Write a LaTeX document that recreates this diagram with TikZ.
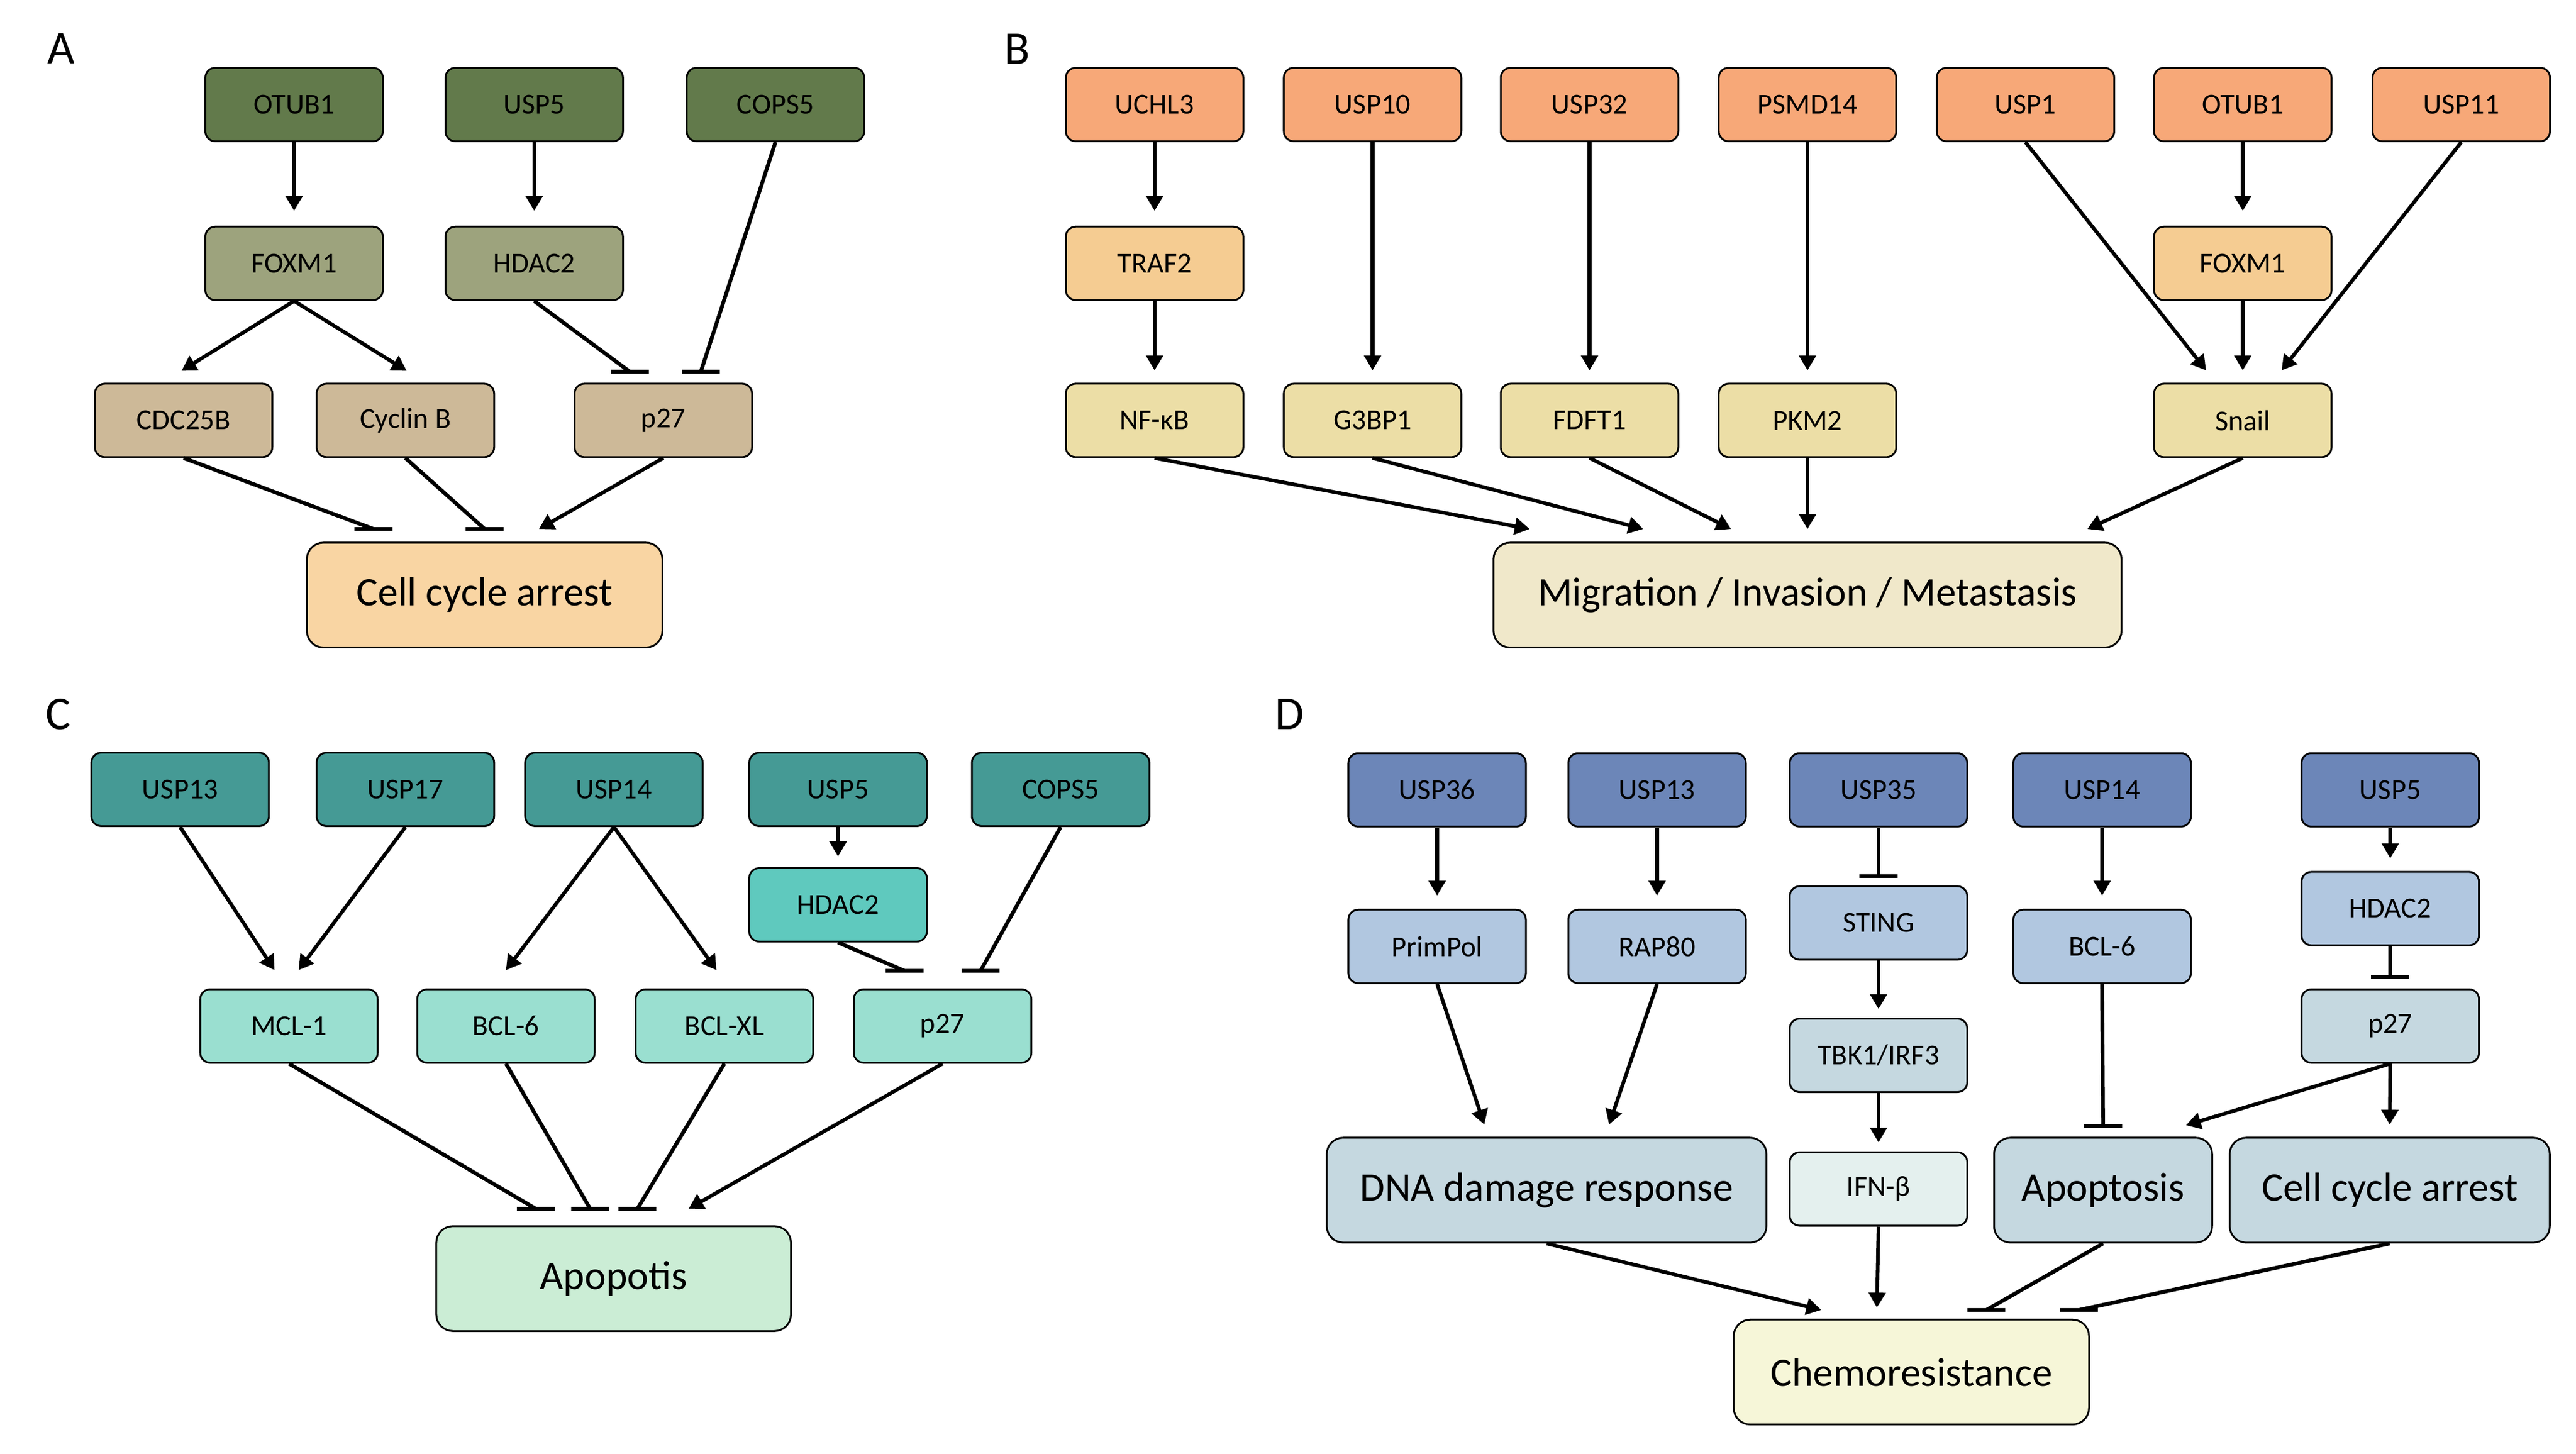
\documentclass[tikz,border=0pt]{standalone}
\usepackage{fontspec}
\setmainfont{Carlito}
\usetikzlibrary{arrows.meta,calc}
\definecolor{aTop}{HTML}{627A4B}
\definecolor{aMid}{HTML}{9DA37D}
\definecolor{aLow}{HTML}{CDB998}
\definecolor{aRes}{HTML}{F9D5A3}
\definecolor{bTop}{HTML}{F7A878}
\definecolor{bMid}{HTML}{F5CC92}
\definecolor{bLow}{HTML}{ECDEA6}
\definecolor{bRes}{HTML}{F0E8CA}
\definecolor{cTop}{HTML}{459A95}
\definecolor{cMid}{HTML}{5FC9BE}
\definecolor{cLow}{HTML}{9ADFD0}
\definecolor{cRes}{HTML}{CBEDD5}
\definecolor{dTop}{HTML}{6C86B8}
\definecolor{dMid}{HTML}{B1C7E0}
\definecolor{dLow}{HTML}{C5D8E0}
\definecolor{dIfn}{HTML}{E4F0EE}
\definecolor{dRes}{HTML}{C5D8E0}
\definecolor{dChem}{HTML}{F6F6D8}
\tikzset{
  box/.style={draw=black, line width=1.1pt, rounded corners=6pt,
    minimum width=107.5pt, minimum height=44.5pt, inner sep=0pt,
    font=\fontsize{17.5}{20}\selectfont},
  bigbox/.style={draw=black, line width=1.1pt, rounded corners=10pt,
    minimum height=63.5pt, inner sep=0pt,
    font=\fontsize{24.5}{28}\selectfont},
  act/.style={line width=2.2pt, -{Triangle[width=10pt,length=9pt]}},
  inh/.style={line width=2.3pt,
    to path={-- (\tikztotarget) +(-11.5pt,0) -- +(11.5pt,0)}},
  panellab/.style={font=\fontsize{28.5}{30}\selectfont, inner sep=0pt},
}
\begin{document}
\begin{tikzpicture}[x=1pt,y=-1pt]
\useasboundingbox[fill=white] (0,0) rectangle (1560,880.6);

% ---------------- Panel A ----------------
\node[panellab] (labA) at (37,29.5) {A};
\node[box,fill=aTop] (otubA) at (178.1,63.3) {OTUB1};
\node[box,fill=aTop] (uspA) at (323.5,63.3) {USP5};
\node[box,fill=aTop] (copsA) at (469.6,63.3) {COPS5};
\node[box,fill=aMid] (foxA) at (178.1,159.5) {FOXM1};
\node[box,fill=aMid] (hdacA) at (323.5,159.5) {HDAC2};
\node[box,fill=aLow] (cdc) at (111.2,254.6) {CDC25B};
\node[box,fill=aLow] (cyc) at (245.5,254.6) {Cyclin B};
\node[box,fill=aLow] (p27A) at (401.7,254.6) {p27};
\node[bigbox,fill=aRes,minimum width=215.3pt] (ccaA) at (293.5,360.4) {Cell cycle arrest};

\draw[act] (otubA.south) -- ([yshift=9pt]foxA.north);
\draw[act] (uspA.south) -- ([yshift=9pt]hdacA.north);
\draw[act] (foxA.south) -- ([xshift=-1.3pt,yshift=7.2pt]cdc.north);
\draw[act] (foxA.south) -- ([xshift=0.8pt,yshift=7.2pt]cyc.north);
\draw[inh] (hdacA.south) to ([xshift=-20.3pt,yshift=6.7pt]p27A.north);
\draw[inh] (copsA.south) to ([xshift=22.7pt,yshift=6.7pt]p27A.north);
\draw[inh] (cdc.south) to ([xshift=-67.3pt,yshift=7.7pt]ccaA.north);
\draw[inh] (cyc.south) to ([xshift=0pt,yshift=7.7pt]ccaA.north);
\draw[act] (p27A.south) -- ([xshift=32.9pt,yshift=7.7pt]ccaA.north);

% ---------------- Panel B ----------------
\node[panellab] (labB) at (616,29.8) {B};
\node[box,fill=bTop] (uchl) at (699.2,63.3) {UCHL3};
\node[box,fill=bTop] (usp10) at (831.2,63.3) {USP10};
\node[box,fill=bTop] (usp32) at (962.6,63.3) {USP32};
\node[box,fill=bTop] (psmd) at (1094.6,63.3) {PSMD14};
\node[box,fill=bTop] (usp1) at (1226.6,63.3) {USP1};
\node[box,fill=bTop] (otubB) at (1358.2,63.3) {OTUB1};
\node[box,fill=bTop] (usp11) at (1490.5,63.3) {USP11};
\node[box,fill=bMid] (traf) at (699.2,159.5) {TRAF2};
\node[box,fill=bMid] (foxB) at (1358.2,159.5) {FOXM1};
\node[box,fill=bLow] (nfkb) at (699.2,254.6) {NF-κB};
\node[box,fill=bLow] (g3bp) at (831.2,254.6) {G3BP1};
\node[box,fill=bLow] (fdft) at (962.6,254.6) {FDFT1};
\node[box,fill=bLow] (pkm) at (1094.6,254.6) {PKM2};
\node[box,fill=bLow] (snail) at (1358.2,254.6) {Snail};
\node[bigbox,fill=bRes,minimum width=380.3pt] (mig) at (1094.6,360.4) {Migration / Invasion / Metastasis};

\draw[act] (uchl.south) -- ([yshift=9pt]traf.north);
\draw[act] (traf.south) -- ([yshift=7.5pt]nfkb.north);
\draw[act] (usp10.south) -- ([yshift=7.5pt]g3bp.north);
\draw[act] (usp32.south) -- ([yshift=7.5pt]fdft.north);
\draw[act] (psmd.south) -- ([yshift=7.5pt]pkm.north);
\draw[act] (otubB.south) -- ([yshift=9pt]foxB.north);
\draw[act] (foxB.south) -- ([yshift=7.5pt]snail.north);
\draw[act] (usp1.south) -- ([xshift=-22.2pt,yshift=7.5pt]snail.north);
\draw[act] (usp11.south) -- ([xshift=23.5pt,yshift=7.5pt]snail.north);
\draw[act] (nfkb.south) -- ([xshift=-168.3pt,yshift=7.7pt]mig.north);
\draw[act] (g3bp.south) -- ([xshift=-99.5pt,yshift=7.7pt]mig.north);
\draw[act] (fdft.south) -- ([xshift=-46.3pt,yshift=7.7pt]mig.north);
\draw[act] (pkm.south) -- ([yshift=7.7pt]mig.north);
\draw[act] (snail.south) -- ([xshift=169.5pt,yshift=7.7pt]mig.north);

% ---------------- Panel C ----------------
\node[panellab] (labC) at (35.4,432.5) {C};
\node[box,fill=cTop] (usp13C) at (109.1,478.1) {USP13};
\node[box,fill=cTop] (usp17) at (245.5,478.1) {USP17};
\node[box,fill=cTop] (usp14C) at (371.8,478.1) {USP14};
\node[box,fill=cTop] (usp5C) at (507.5,478.1) {USP5};
\node[box,fill=cTop] (copsC) at (642.3,478.1) {COPS5};
\node[box,fill=cMid] (hdacC) at (507.5,548) {HDAC2};
\node[box,fill=cLow] (mcl) at (175,621.4) {MCL-1};
\node[box,fill=cLow] (bcl6C) at (306.4,621.4) {BCL-6};
\node[box,fill=cLow] (bclxl) at (438.7,621.4) {BCL-XL};
\node[box,fill=cLow] (p27C) at (570.8,621.4) {p27};
\node[bigbox,fill=cRes,minimum width=214.8pt] (apoC) at (371.6,774.4) {Apopotis};

\draw[act] (usp13C.south) -- ([xshift=-8.7pt,yshift=11pt]mcl.north);
\draw[act] (usp17.south) -- ([xshift=5.8pt,yshift=11pt]mcl.north);
\draw[act] (usp14C.south) -- ([xshift=0pt,yshift=11pt]bcl6C.north);
\draw[act] (usp14C.south) -- ([xshift=-4.8pt,yshift=11pt]bclxl.north);
\draw[act] (usp5C.south) -- ([yshift=6.5pt]hdacC.north);
\draw[inh] (hdacC.south) to ([xshift=-23pt,yshift=10.6pt]p27C.north);
\draw[inh] (copsC.south) to ([xshift=23pt,yshift=10.6pt]p27C.north);
\draw[inh] (mcl.south) to ([xshift=-47.1pt,yshift=10pt]apoC.north);
\draw[inh] (bcl6C.south) to ([xshift=-14.2pt,yshift=10pt]apoC.north);
\draw[inh] (bclxl.south) to ([xshift=14.4pt,yshift=10pt]apoC.north);
\draw[act] (p27C.south) -- ([xshift=45.4pt,yshift=10pt]apoC.north);

% ---------------- Panel D ----------------
\node[panellab] (labD) at (781,432.5) {D};
\node[box,fill=dTop] (usp36) at (870.3,478.4) {USP36};
\node[box,fill=dTop] (usp13D) at (1003.5,478.4) {USP13};
\node[box,fill=dTop] (usp35) at (1137.6,478.4) {USP35};
\node[box,fill=dTop] (usp14D) at (1273,478.4) {USP14};
\node[box,fill=dTop] (usp5D) at (1447.5,478.4) {USP5};
\node[box,fill=dMid] (primpol) at (870.3,573.2) {PrimPol};
\node[box,fill=dMid] (rap) at (1003.5,573.2) {RAP80};
\node[box,fill=dMid] (sting) at (1137.6,559) {STING};
\node[box,fill=dMid] (bcl6D) at (1273,573.2) {BCL-6};
\node[box,fill=dMid] (hdacD) at (1447.5,550.3) {HDAC2};
\node[box,fill=dLow] (p27D) at (1447.5,621.4) {p27};
\node[box,fill=dLow] (tbk) at (1137.6,639.2) {TBK1/IRF3};
\node[box,fill=dIfn] (ifn) at (1137.6,720.1) {IFN-β};
\node[bigbox,fill=dRes,minimum width=266.3pt] (dna) at (936.6,720.8) {DNA damage response};
\node[bigbox,fill=dRes,minimum width=132.1pt] (apoD) at (1273.6,720.8) {Apoptosis};
\node[bigbox,fill=dRes,minimum width=193.9pt] (ccaD) at (1447.2,720.8) {Cell cycle arrest};
\node[bigbox,fill=dChem,minimum width=215.2pt] (chemo) at (1157.5,831) {Chemoresistance};

\draw[act] (usp36.south) -- ([yshift=8pt]primpol.north);
\draw[act] (usp13D.south) -- ([yshift=8pt]rap.north);
\draw[inh] (usp35.south) to ([yshift=5.6pt]sting.north);
\draw[act] (sting.south) -- ([yshift=5.3pt]tbk.north);
\draw[act] (tbk.south) -- ([yshift=5.4pt]ifn.north);
\draw[act] (usp14D.south) -- ([yshift=8pt]bcl6D.north);
\draw[act] (usp5D.south) -- ([yshift=7.7pt]hdacD.north);
\draw[inh] (hdacD.south) to ([yshift=6.8pt]p27D.north);
\draw[act] (primpol.south) -- ([xshift=-37.7pt,yshift=7.4pt]dna.north);
\draw[act] (rap.south) -- ([xshift=37.8pt,yshift=7.4pt]dna.north);
\draw[inh] (bcl6D.south) to ([yshift=6.6pt]apoD.north);
\draw[act] (p27D.south) -- ([xshift=50.2pt,yshift=7pt]apoD.north);
\draw[act] (p27D.south) -- ([yshift=7.4pt]ccaD.north);
\draw[act] (dna.south) -- ([xshift=-54.6pt,yshift=5.3pt]chemo.north);
\draw[act] (ifn.south) -- ([xshift=-20.9pt,yshift=6.8pt]chemo.north);
\draw[inh] (apoD.south) to ([xshift=45.4pt,yshift=5.3pt]chemo.north);
\draw[inh] (ccaD.south) to ([xshift=101.5pt,yshift=5.3pt]chemo.north);
\end{tikzpicture}
\end{document}
